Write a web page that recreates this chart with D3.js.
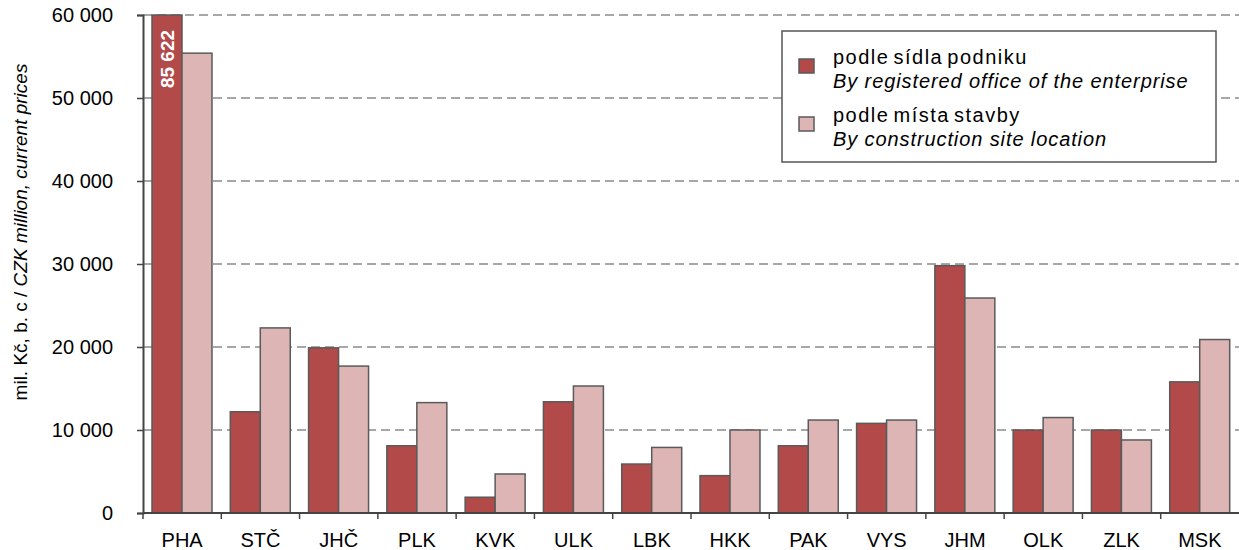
<!DOCTYPE html>
<html>
<head>
<meta charset="utf-8">
<script src="https://cdn.jsdelivr.net/npm/d3@7"></script>
<style>
  body { margin: 0; background: #fff; }
  text { font-family: "Liberation Sans", Arial, sans-serif; }
</style>
</head>
<body>
<script>
var regions = ["PHA", "STČ", "JHČ", "PLK", "KVK", "ULK", "LBK", "HKK", "PAK", "VYS", "JHM", "OLK", "ZLK", "MSK"];
var bySeat = [85622, 12200, 19900, 8100, 1900, 13400, 5900, 4500, 8100, 10800, 29800, 10000, 10000, 15800];
var bySite = [55400, 22300, 17700, 13300, 4700, 15300, 7900, 10000, 11200, 11200, 25900, 11500, 8800, 20900];
var yTicks = [0, 10000, 20000, 30000, 40000, 50000, 60000];
var seriesNames = ["podle sídla podniku", "podle místa stavby"];
var seriesNamesEn = ["By registered office of the enterprise", "By construction site location"];
var colors = ["#b24a4a", "#ddb5b5"];

var width = 1239, height = 550;
var mLeft = 143, mRight = 1239, mTop = 15, mBottom = 513;

var svg = d3.select("body").append("svg")
    .attr("width", width).attr("height", height);

var x = d3.scaleBand().domain(regions).range([mLeft, mRight]);
var x1 = d3.scaleBand().domain([0, 1]).range([9, x.bandwidth() - 9.3]);
var y = d3.scaleLinear().domain([0, 60000]).range([mBottom, mTop]).clamp(true);
var fmt = function(d) { return d3.format(",")(d).replace(/,/g, " "); };

// dashed grid
svg.append("g").selectAll("line")
  .data(yTicks.filter(function(d) { return d > 0; }))
  .enter().append("line")
    .attr("x1", mLeft).attr("x2", mRight)
    .attr("y1", function(d) { return y(d); })
    .attr("y2", function(d) { return y(d); })
    .attr("stroke", "#8a8a8a")
    .attr("stroke-width", 1.5)
    .attr("stroke-dasharray", "9,5");

// bars
var data = regions.map(function(r, i) { return { r: r, v: [bySeat[i], bySite[i]] }; });
var groups = svg.append("g").selectAll("g")
  .data(data).enter().append("g")
    .attr("transform", function(d) { return "translate(" + x(d.r) + ",0)"; });

groups.selectAll("rect")
  .data(function(d) { return d.v.map(function(v, k) { return { v: v, k: k }; }); })
  .enter().append("rect")
    .attr("x", function(d) { return x1(d.k); })
    .attr("width", x1.bandwidth())
    .attr("y", function(d) { return y(d.v); })
    .attr("height", function(d) { return mBottom - y(d.v); })
    .attr("fill", function(d) { return colors[d.k]; })
    .attr("stroke", "#5a5a5a")
    .attr("stroke-width", 1.5);

// value label for the clipped bar
svg.append("text")
    .attr("transform", "translate(" + (x("PHA") + x1(0) + x1.bandwidth() / 2 + 7) + "," + (mTop + 44) + ") rotate(-90)")
    .attr("text-anchor", "middle")
    .attr("fill", "#fff")
    .attr("font-weight", "bold")
    .attr("font-size", 19)
    .text(fmt(bySeat[0]));

// y axis
var yAxis = svg.append("g")
    .attr("transform", "translate(" + mLeft + ",0)")
    .call(d3.axisLeft(y).tickValues(yTicks).tickSize(6).tickPadding(24).tickFormat(fmt));
yAxis.select(".domain").attr("stroke", "#444").attr("stroke-width", 2);
yAxis.selectAll(".tick line").attr("stroke", "#444").attr("stroke-width", 1.5);
yAxis.selectAll(".tick text")
    .attr("font-family", "Liberation Sans, Arial, sans-serif")
    .attr("font-size", 20).attr("fill", "#000");

// x axis
var xAxisG = svg.append("g").attr("transform", "translate(0," + mBottom + ")");
xAxisG.append("line")
    .attr("x1", mLeft).attr("x2", mRight)
    .attr("stroke", "#444").attr("stroke-width", 2);
xAxisG.selectAll("line.tk")
  .data(regions).enter().append("line")
    .attr("class", "tk")
    .attr("x1", function(d) { return x(d); })
    .attr("x2", function(d) { return x(d); })
    .attr("y1", 0).attr("y2", 6)
    .attr("stroke", "#444").attr("stroke-width", 1.5);
xAxisG.selectAll("text")
  .data(regions).enter().append("text")
    .attr("x", function(d) { return x(d) + x.bandwidth() / 2; })
    .attr("y", 34)
    .attr("text-anchor", "middle")
    .attr("font-size", 20)
    .text(function(d) { return d; });

// y axis title
var yt = svg.append("text")
    .attr("transform", "translate(27,232) rotate(-90)")
    .attr("text-anchor", "middle")
    .attr("font-size", 19);
yt.append("tspan").text("mil. Kč,  b. c / ");
yt.append("tspan").attr("font-style", "italic").text("CZK million,  current prices");

// legend
var lg = svg.append("g").attr("transform", "translate(782,31)");
lg.append("rect")
    .attr("width", 434).attr("height", 131)
    .attr("fill", "#fff").attr("stroke", "#555").attr("stroke-width", 1.5);
seriesNames.forEach(function(name, i) {
  var g = lg.append("g").attr("transform", "translate(0," + (i * 58) + ")");
  g.append("rect")
      .attr("x", 17).attr("y", 28).attr("width", 15).attr("height", 14)
      .attr("fill", colors[i]).attr("stroke", "#5a5a5a").attr("stroke-width", 1.5);
  g.append("text").attr("x", 51).attr("y", 33).attr("font-size", 20)
      .attr("letter-spacing", 1.5).attr("word-spacing", -3).text(name);
  g.append("text").attr("x", 51).attr("y", 57).attr("font-size", 20)
      .attr("letter-spacing", 0.9)
      .attr("font-style", "italic").text(seriesNamesEn[i]);
});
</script>
</body>
</html>
